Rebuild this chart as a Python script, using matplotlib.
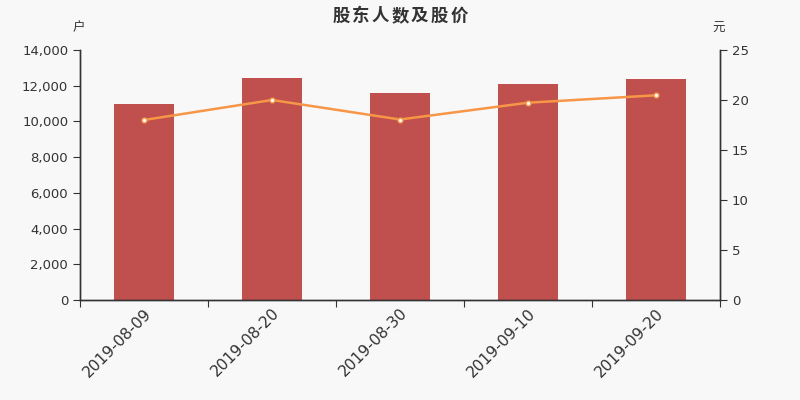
import matplotlib.pyplot as plt
import matplotlib.transforms as mtransforms
from matplotlib.ticker import FuncFormatter

plt.rcParams['font.family'] = ['DejaVu Sans', 'Noto Sans CJK SC']

dates = ['2019-08-09', '2019-08-20', '2019-08-30', '2019-09-10', '2019-09-20']
holders = [10970, 12410, 11590, 12090, 12380]
price = [18.0, 20.0, 18.05, 19.73, 20.47]
title = '股东人数及股价'

bg = '#f8f8f8'
dark = '#333333'
cjk = ['Noto Sans CJK SC', 'DejaVu Sans']

fig = plt.figure(figsize=(8, 4), dpi=100, facecolor=bg)
ax = fig.add_axes([0.1, 0.25, 0.8, 0.625], facecolor=bg)
x = list(range(len(dates)))

ax.bar(x, holders, width=0.47, color='#c0504d', zorder=2)
ax.set_xlim(-0.5, len(dates) - 0.5)
ax.set_ylim(0, 14000)
ax.set_yticks(range(0, 14001, 2000))
ax.yaxis.set_major_formatter(FuncFormatter(lambda v, p: f'{int(v):,}'))
ax.set_xticks([i - 0.5 for i in range(len(dates) + 1)], minor=False)
ax.set_xticklabels([])
ax.set_xticks(x, minor=True)
labels = ax.set_xticklabels(dates, minor=True, rotation=45, ha='right', rotation_mode='anchor',
                            fontsize=11.2, color=dark)
shift = mtransforms.ScaledTranslation(-4 / 100, 2 / 100, fig.dpi_scale_trans)
for lab in labels:
    lab.set_transform(lab.get_transform() + shift)
ax.tick_params(axis='x', which='minor', length=0, pad=4)
ax.tick_params(axis='x', which='major', length=5, color=dark)
ax.tick_params(axis='y', length=5, color=dark, labelcolor=dark, labelsize=9.5)

ax2 = ax.twinx()
ax2.plot(x, price, color='#f79646', lw=1.8, marker='o', ms=3.5,
         mfc='white', mec='#f79646', mew=1, zorder=3)
ax2.set_ylim(0, 25)
ax2.set_yticks(range(0, 26, 5))
ax2.tick_params(axis='y', length=5, color=dark, labelcolor=dark, labelsize=9.5)

for a in (ax, ax2):
    a.spines['top'].set_visible(False)
    for s in ('left', 'right', 'bottom'):
        a.spines[s].set_color(dark)
        a.spines[s].set_linewidth(1)

# title drawn char by char to get the wide letter spacing
pitch = 19.6 / 800
for i, ch in enumerate(title):
    fig.text(0.5 + (i - 3) * pitch, 0.948, ch, ha='center', va='baseline', fontsize=12.5,
             fontweight='bold', color=dark, family=cjk)
fig.text(0.098, 0.93, '户', ha='center', va='center', fontsize=9, color=dark, family=cjk)
fig.text(0.898, 0.93, '元', ha='center', va='center', fontsize=9, color=dark, family=cjk)

fig.savefig('out.png', dpi=100, facecolor=bg)
